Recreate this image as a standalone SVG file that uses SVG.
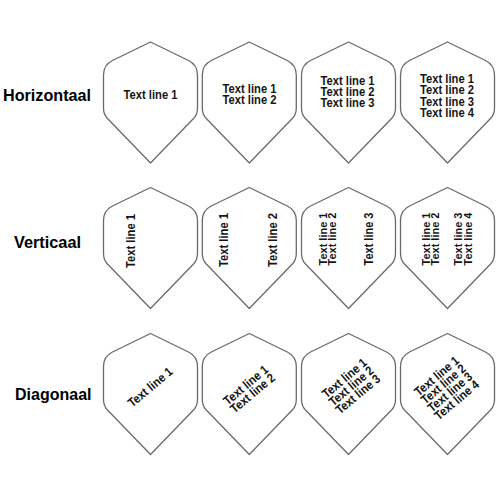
<svg xmlns="http://www.w3.org/2000/svg" xmlns:xlink="http://www.w3.org/1999/xlink" width="500" height="500" viewBox="0 0 500 500">
  <style>
    .flight { fill: #ffffff; stroke: #6a6a6a; stroke-width: 1.3; stroke-linejoin: round; }
    .t { font-family: "Liberation Sans", Arial, sans-serif; font-weight: bold; font-size: 12.5px; fill: #151515; text-anchor: middle; }
    .ts { font-size: 11.2px; }
    .lbl { font-family: "Liberation Sans", Arial, sans-serif; font-weight: bold; font-size: 17px; fill: #000000; }
  </style>
  <defs>
    <path id="flight" d="M0,0 L-38,18.5 Q-47,23 -47,33 L-47,66 Q-47,72 -43.5,76 L0,121 L43.5,76 Q47,72 47,66 L47,33 Q47,23 38,18.5 Z"/>
  </defs>
  <rect width="500" height="500" fill="#ffffff"/>

  <g id="labels">
    <text class="lbl" x="3" y="101" textLength="88" lengthAdjust="spacingAndGlyphs">Horizontaal</text>
    <text class="lbl" x="14" y="247.5" textLength="67" lengthAdjust="spacingAndGlyphs">Verticaal</text>
    <text class="lbl" x="15" y="400" textLength="76.5" lengthAdjust="spacingAndGlyphs">Diagonaal</text>
  </g>

  <!-- Row 1: Horizontaal -->
  <g id="h1">
    <use href="#flight" xlink:href="#flight" class="flight" x="150.5" y="42"/>
    <text class="t" x="150.5" y="99" textLength="54" lengthAdjust="spacingAndGlyphs">Text line 1</text>
  </g>
  <g id="h2">
    <use href="#flight" xlink:href="#flight" class="flight" x="249.3" y="42"/>
    <text class="t" x="249.5" y="92.7" textLength="54" lengthAdjust="spacingAndGlyphs">Text line 1</text>
    <text class="t" x="249.5" y="104" textLength="54" lengthAdjust="spacingAndGlyphs">Text line 2</text>
  </g>
  <g id="h3">
    <use href="#flight" xlink:href="#flight" class="flight" x="348.5" y="42"/>
    <text class="t" x="347.5" y="85" textLength="54" lengthAdjust="spacingAndGlyphs">Text line 1</text>
    <text class="t" x="347.5" y="96" textLength="54" lengthAdjust="spacingAndGlyphs">Text line 2</text>
    <text class="t" x="347.5" y="106.7" textLength="54" lengthAdjust="spacingAndGlyphs">Text line 3</text>
  </g>
  <g id="h4">
    <use href="#flight" xlink:href="#flight" class="flight" x="447.5" y="42"/>
    <text class="t" x="447" y="83.3" textLength="54" lengthAdjust="spacingAndGlyphs">Text line 1</text>
    <text class="t" x="447" y="94.3" textLength="54" lengthAdjust="spacingAndGlyphs">Text line 2</text>
    <text class="t" x="447" y="106" textLength="54" lengthAdjust="spacingAndGlyphs">Text line 3</text>
    <text class="t" x="447" y="117.3" textLength="54" lengthAdjust="spacingAndGlyphs">Text line 4</text>
  </g>

  <!-- Row 2: Verticaal -->
  <g id="v1">
    <use href="#flight" xlink:href="#flight" class="flight" x="150.5" y="187.5"/>
    <text class="t" transform="translate(135,241) rotate(-90)" textLength="54" lengthAdjust="spacingAndGlyphs">Text line 1</text>
  </g>
  <g id="v2">
    <use href="#flight" xlink:href="#flight" class="flight" x="249.3" y="187.5"/>
    <text class="t" transform="translate(228.3,240) rotate(-90)" textLength="54" lengthAdjust="spacingAndGlyphs">Text line 1</text>
    <text class="t" transform="translate(277.3,240) rotate(-90)" textLength="54" lengthAdjust="spacingAndGlyphs">Text line 2</text>
  </g>
  <g id="v3">
    <use href="#flight" xlink:href="#flight" class="flight" x="348.5" y="187.5"/>
    <text class="t ts" transform="translate(326.7,239) rotate(-90)" textLength="53" lengthAdjust="spacingAndGlyphs">Text line 1</text>
    <text class="t ts" transform="translate(336.2,239) rotate(-90)" textLength="53" lengthAdjust="spacingAndGlyphs">Text line 2</text>
    <text class="t" transform="translate(373.3,239) rotate(-90)" textLength="53" lengthAdjust="spacingAndGlyphs">Text line 3</text>
  </g>
  <g id="v4">
    <use href="#flight" xlink:href="#flight" class="flight" x="447.5" y="187.5"/>
    <text class="t ts" transform="translate(430,239) rotate(-90)" textLength="53" lengthAdjust="spacingAndGlyphs">Text line 1</text>
    <text class="t ts" transform="translate(439.3,239) rotate(-90)" textLength="53" lengthAdjust="spacingAndGlyphs">Text line 2</text>
    <text class="t ts" transform="translate(462,239) rotate(-90)" textLength="53" lengthAdjust="spacingAndGlyphs">Text line 3</text>
    <text class="t ts" transform="translate(471.5,239) rotate(-90)" textLength="53" lengthAdjust="spacingAndGlyphs">Text line 4</text>
  </g>

  <!-- Row 3: Diagonaal -->
  <g id="d1">
    <use href="#flight" xlink:href="#flight" class="flight" x="150.5" y="333.5"/>
    <g transform="translate(150,387) rotate(-40)">
      <text class="t" x="0" y="4.5" textLength="54" lengthAdjust="spacingAndGlyphs">Text line 1</text>
    </g>
  </g>
  <g id="d2">
    <use href="#flight" xlink:href="#flight" class="flight" x="249.3" y="333.5"/>
    <g transform="translate(249,389) rotate(-40)">
      <text class="t" x="0" y="-0.8" textLength="54" lengthAdjust="spacingAndGlyphs">Text line 1</text>
      <text class="t" x="0" y="9.8" textLength="54" lengthAdjust="spacingAndGlyphs">Text line 2</text>
    </g>
  </g>
  <g id="d3">
    <use href="#flight" xlink:href="#flight" class="flight" x="348.5" y="333.5"/>
    <g transform="translate(351,386) rotate(-40)">
      <text class="t" x="0" y="-6" textLength="54" lengthAdjust="spacingAndGlyphs">Text line 1</text>
      <text class="t" x="0" y="4.5" textLength="54" lengthAdjust="spacingAndGlyphs">Text line 2</text>
      <text class="t" x="0" y="15" textLength="54" lengthAdjust="spacingAndGlyphs">Text line 3</text>
    </g>
  </g>
  <g id="d4">
    <use href="#flight" xlink:href="#flight" class="flight" x="447.5" y="333.5"/>
    <g transform="translate(446.5,388) rotate(-40)">
      <text class="t" x="0" y="-11.2" textLength="54" lengthAdjust="spacingAndGlyphs">Text line 1</text>
      <text class="t" x="0" y="-0.8" textLength="54" lengthAdjust="spacingAndGlyphs">Text line 2</text>
      <text class="t" x="0" y="9.6" textLength="54" lengthAdjust="spacingAndGlyphs">Text line 3</text>
      <text class="t" x="0" y="20" textLength="54" lengthAdjust="spacingAndGlyphs">Text line 4</text>
    </g>
  </g>
</svg>
